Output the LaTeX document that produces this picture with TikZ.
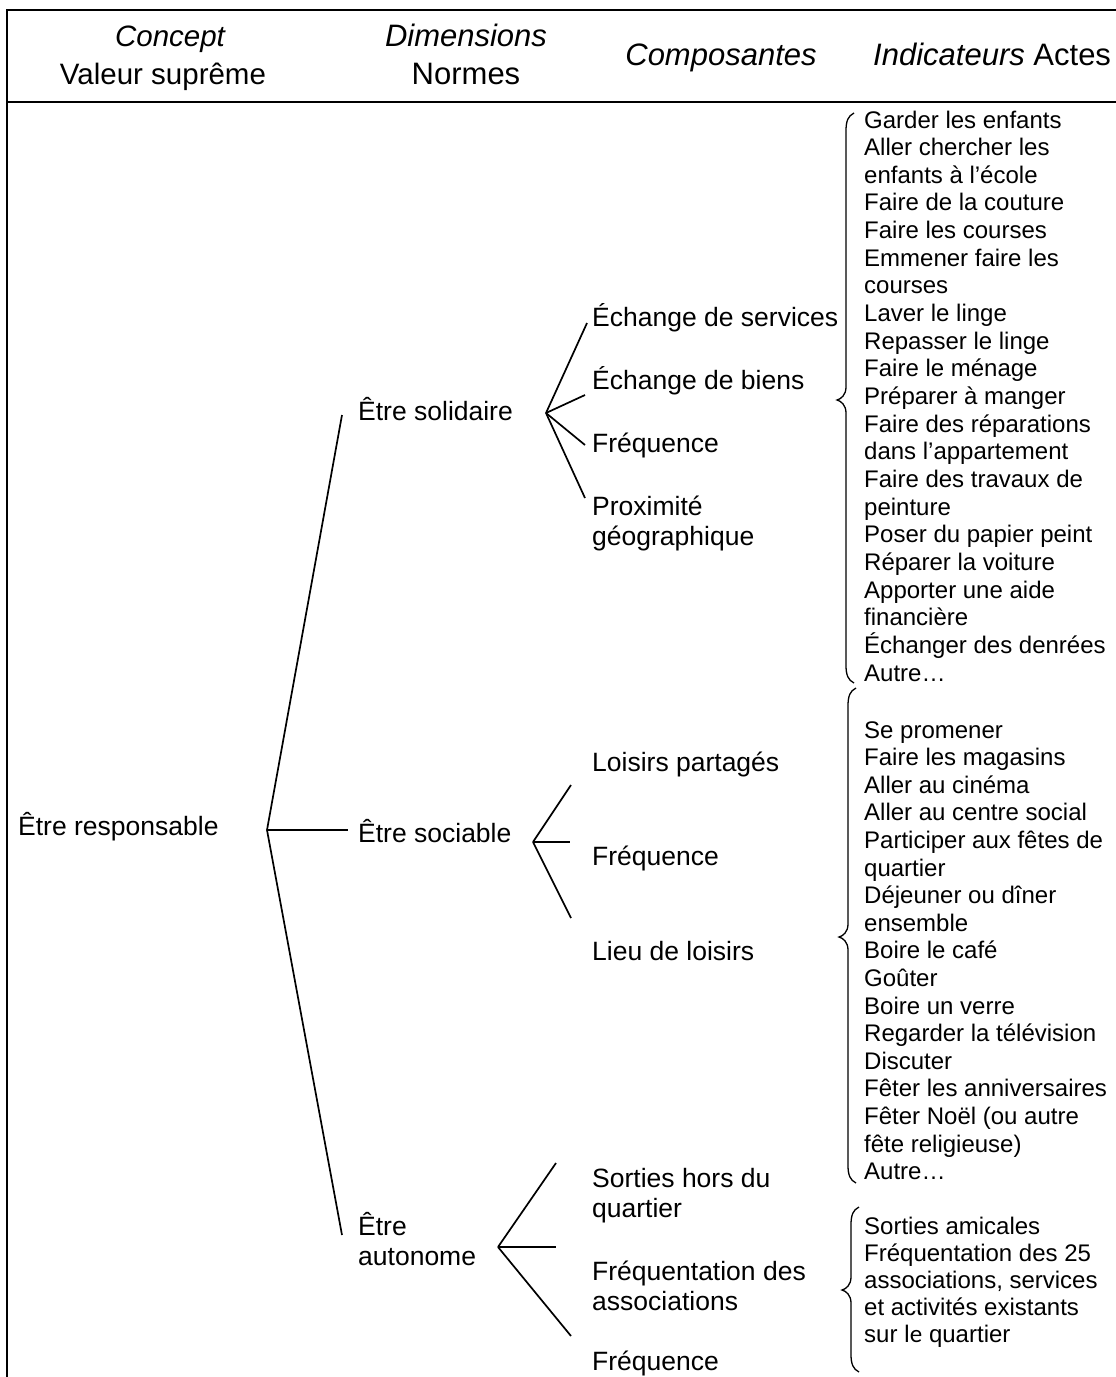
\documentclass[tikz,border=0pt]{standalone}
\usepackage{fontspec}
\setmainfont{Liberation Sans}
\newfontfamily\carlitofont{Carlito}
\newcommand\drawbrace[4]{% #1 x of the vertical, #2 top y, #3 tip y, #4 bottom y
  \draw[bracepath] (#1+8,#2) .. controls (#1+2,#2+3) and (#1,#2+8) .. (#1,#2+18)
    -- (#1,#3-13) .. controls (#1,#3-5) and (#1-5,#3-1) .. (#1-9,#3)
    .. controls (#1-5,#3+1) and (#1,#3+5) .. (#1,#3+13)
    -- (#1,#4-18) .. controls (#1,#4-8) and (#1+2,#4-3) .. (#1+8,#4);}
\begin{document}
\begin{tikzpicture}[x=1pt,y=-1pt,
  frame/.style={line width=2pt},
  branch/.style={line width=1.7pt},
  bracepath/.style={line width=1.3pt},
  actes/.style={anchor=base west, inner sep=0pt, font=\fontsize{24}{27.6}\selectfont},
  compo/.style={anchor=base west, inner sep=0pt, font=\fontsize{26.5}{30.5}\selectfont},
  head/.style={anchor=base, inner sep=0pt, font=\fontsize{31}{35}\selectfont},
  headsmall/.style={anchor=base, inner sep=0pt, font=\fontsize{29.5}{34}\selectfont}]
\useasboundingbox (0,0) rectangle (1116,1377);
\fill[white] (0,0) rectangle (1116,1377);
% frame
\draw[frame] (1116,10) -- (7,10) -- (7,1377);
\draw[frame] (7,102) -- (1116,102);
% header
\node[headsmall] (hc1) at (170,46) {\itshape Concept};
\node[headsmall] (hc2) at (163,84) {Valeur suprême};
\node[head] (hd1) at (466,46) {\itshape Dimensions};
\node[head] (hd2) at (466,84) {Normes};
\node[head] (hcomp) at (721,65) {\itshape Composantes};
\node[head, anchor=base west] (hind) at (873,65) {\textit{Indicateurs} Actes};
% concept and dimensions
\node[compo] (resp) at (18,835) {Être responsable};
\node[compo] (soli) at (358,420) {Être solidaire};
\node[compo] (soci) at (358,842) {Être sociable};
\node[compo] (auto1) at (358,1235) {Être};
\node[compo] (auto2) at (358,1265) {autonome};
% composantes
\node[compo] (c1) at (592,326) {Échange de services};
\node[compo] (c2) at (592,389) {Échange de biens};
\node[compo] (c3) at (592,452) {Fréquence};
\node[compo] (c4a) at (592,515) {Proximité};
\node[compo] (c4b) at (592,545) {géographique};
\node[compo] (c5) at (592,771) {Loisirs partagés};
\node[compo] (c6) at (592,865) {Fréquence};
\node[compo] (c7) at (592,960) {Lieu de loisirs};
\node[compo] (c8a) at (592,1187) {Sorties hors du};
\node[compo] (c8b) at (592,1217) {quartier};
\node[compo] (c9a) at (592,1280) {Fréquentation des};
\node[compo] (c9b) at (592,1310) {associations};
\node[compo] (c10) at (592,1370) {Fréquence};
% indicateurs
\foreach \t [count=\i] in {Garder les enfants, Aller chercher les, enfants à l’école,
  Faire de la couture, Faire les courses, Emmener faire les, courses, Laver le linge,
  Repasser le linge, Faire le ménage, Préparer à manger, Faire des réparations,
  dans l’appartement, Faire des travaux de, peinture, Poser du papier peint,
  Réparer la voiture, Apporter une aide, financière, Échanger des denrées, Autre…}
  \node[actes] (ia\i) at (864,{128+(\i-1)*27.65}) {\t};
\foreach \t [count=\i] in {Se promener, Faire les magasins, Aller au cinéma,
  Aller au centre social, Participer aux fêtes de, quartier, Déjeuner ou dîner,
  ensemble, Boire le café, Goûter, Boire un verre, Regarder la télévision, Discuter,
  Fêter les anniversaires, Fêter Noël (ou autre, fête religieuse), Autre…}
  \node[actes] (ib\i) at (864,{738+(\i-1)*27.6}) {\t};
\foreach \t [count=\i] in {Sorties amicales, Fréquentation des 25,
  {associations, services}, et activités existants, sur {\carlitofont\fontsize{25}{27}\selectfont le} quartier}
  \node[actes] (ic\i) at (864,{1234+(\i-1)*27}) {\t};
% tree connectors
\coordinate (v0) at (267,830);
\coordinate (v0a) at (342,415);
\coordinate (v0b) at (348,830);
\coordinate (v0c) at (342,1235);
\draw[branch] (v0a) -- (v0) -- (v0c);
\draw[branch] (v0) -- (v0b);
\coordinate (vs) at (546,413);
\coordinate (vs1) at (587,323);
\coordinate (vs2) at (585,395);
\coordinate (vs3) at (585,445);
\coordinate (vs4) at (585,498);
\foreach \e in {vs1,vs2,vs3,vs4} \draw[branch] (vs) -- (\e);
\coordinate (vo) at (533,842);
\coordinate (vo1) at (571,785);
\coordinate (vo2) at (570,842);
\coordinate (vo3) at (571,918);
\foreach \e in {vo1,vo2,vo3} \draw[branch] (vo) -- (\e);
\coordinate (va) at (498,1247);
\coordinate (va1) at (556,1163);
\coordinate (va2) at (556,1247);
\coordinate (va3) at (571,1336);
\foreach \e in {va1,va2,va3} \draw[branch] (va) -- (\e);
% braces
\drawbrace{846}{113}{400}{683}
\drawbrace{848}{688}{937}{1183}
\drawbrace{851}{1207}{1290}{1372}
\end{tikzpicture}
\end{document}
